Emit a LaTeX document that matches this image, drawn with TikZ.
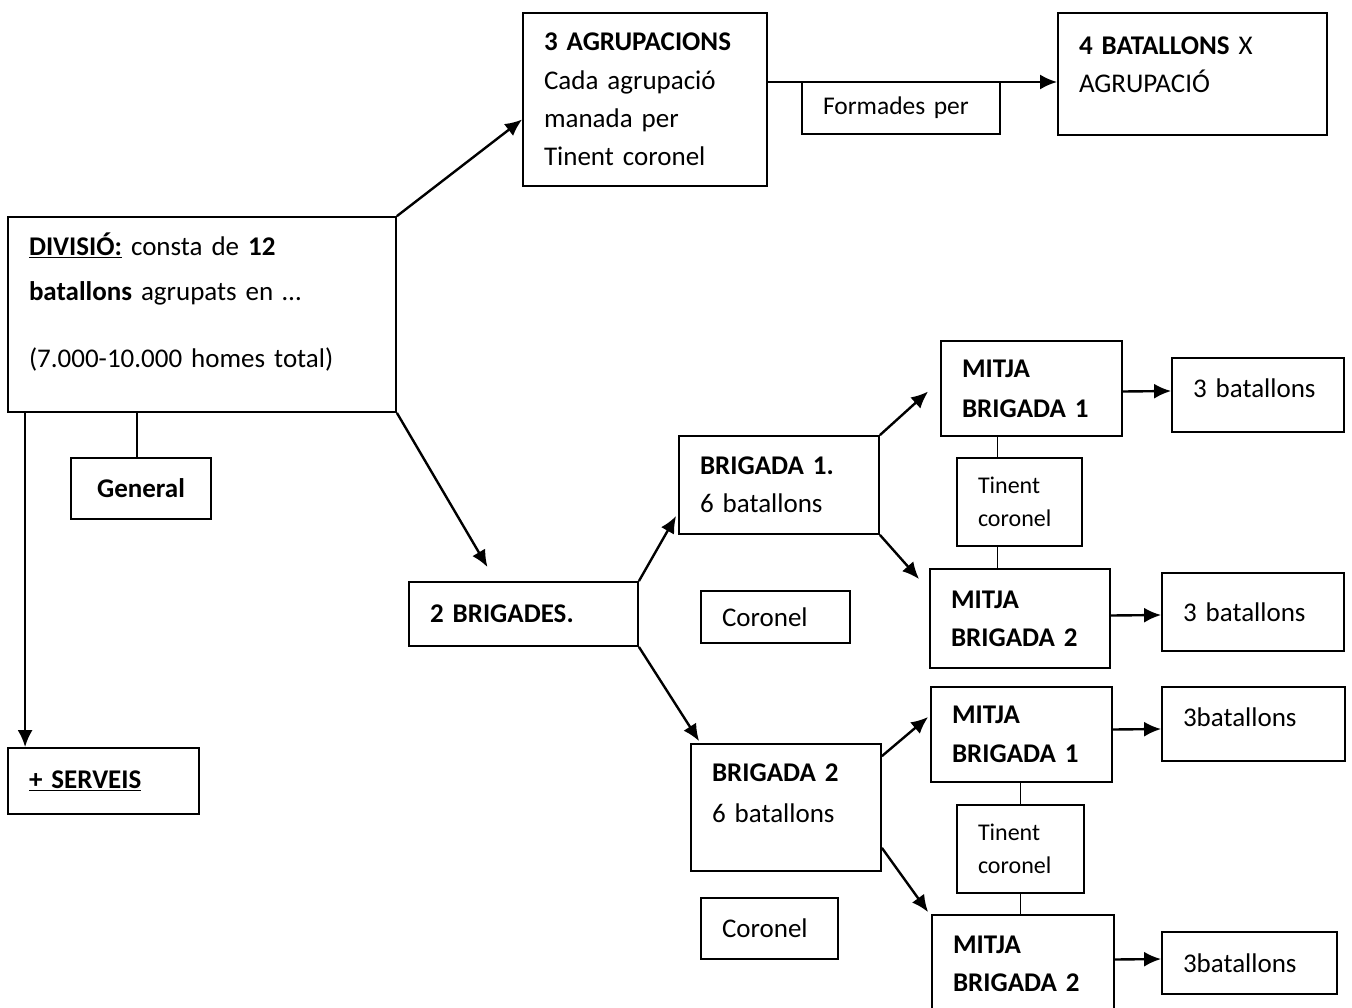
\documentclass[tikz,border=0pt]{standalone}
\usepackage{fontspec}
\setmainfont{Carlito}
\usetikzlibrary{
    calc,
    arrows.meta,
    positioning
}
\tikzset{
    box/.style={draw, line width=1.8pt, rectangle, align=left, inner xsep=21pt, inner ysep=0pt,
        font=\fontsize{27}{38}\selectfont},
    small/.style={font=\fontsize{24}{33}\selectfont},
    conn/.style={-{Latex[length=17pt,width=15pt]}, line width=2.4pt},
    tie/.style={line width=1.6pt}
}

\begin{document}
\begin{tikzpicture}[x=1pt, y=-1pt]
        \useasboundingbox (0,0) rectangle (1352,1007);

        % left part
        \node[box, text width=346pt, minimum height=195pt] (divisio) at (202,314.5)
            {\underline{\textbf{DIVISIÓ:}} consta de \textbf{12}\\[7pt]
             \textbf{batallons} agrupats en …\\[29pt]
             (7.000-10.000 homes total)\par\vspace{24pt}\hrule height 0pt};
        \node[box, align=center, text width=98pt, minimum height=61pt] (general) at (141,488.5) {\textbf{General}};
        \node[box, text width=149pt, minimum height=66pt] (serveis) at (103.5,781) {\underline{\textbf{+ SERVEIS}}};

        \draw[tie] ([shift={(-4,0)}]general.north) -- ([shift={(-4,0)}]general.north |- divisio.south);
        \draw[conn] ([shift={(18,0)}]divisio.south west) -- ([shift={(18,0)}]serveis.north west);

        % agrupacions
        \node[box, text width=202pt, minimum height=173pt] (agrup) at (645,99.5)
            {\textbf{3 AGRUPACIONS}\\[1pt] Cada agrupació\\ manada per\\ Tinent coronel};
        \node[box, font=\fontsize{25.5}{33}\selectfont, text width=156pt, minimum height=52pt] (formades) at (901,108) {Formades per};
        \node[box, text width=227pt, minimum height=122pt] (bat4) at (1192.5,74)
            {\textbf{4 BATALLONS} X\\ AGRUPACIÓ\par\vspace{18pt}\hrule height 0pt};

        \draw[conn] (divisio.north east) -- ([shift={(0,20)}]agrup.west);
        \draw[conn] ([shift={(0,-17.5)}]agrup.east) -- ([shift={(0,8)}]bat4.west);

        % brigades
        \node[box, text width=187pt, minimum height=64pt] (brigades) at (523.5,614) {\textbf{2 BRIGADES.}};
        \node[box, text width=158pt, minimum height=98pt] (brig1) at (779,485) {\textbf{BRIGADA 1.}\\ 6 batallons};
        \node[box, text width=107pt, minimum height=52pt] (coronel1) at (775.5,617) {Coronel};
        \node[box, text width=148pt, minimum height=127pt] (brig2) at (786,807.5)
            {\textbf{BRIGADA 2}\\[3pt] 6 batallons\par\vspace{28pt}\hrule height 0pt};
        \node[box, text width=95pt, minimum height=61pt] (coronel2) at (769.5,928.5) {Coronel};

        \draw[conn] (divisio.south east) -- ([shift={(-36,-14)}]brigades.north);
        \draw[conn] (brigades.north east) -- ([shift={(-2,31)}]brig1.west);
        \draw[conn] (brigades.south east) -- ([shift={(9,-2)}]brig2.north west);

        % brigada 1
        \node[box, text width=139pt, minimum height=95pt] (mitja1) at (1031.5,388.5) {\textbf{MITJA}\\[2pt] \textbf{BRIGADA 1}};
        \node[box, text width=130pt, minimum height=74pt] (bat31) at (1258,395) {3 batallons\par\vspace{14pt}\hrule height 0pt};
        \node[box, small, text width=83pt, minimum height=88pt] (tin1) at (1019.5,502) {Tinent\\ coronel};
        \node[box, text width=138pt, minimum height=99pt] (mitja2) at (1020,618.5) {\textbf{MITJA}\\ \textbf{BRIGADA 2}};
        \node[box, text width=140pt, minimum height=78pt] (bat32) at (1253,612) {3 batallons};

        \draw[conn] (brig1.north east) -- ([shift={(-12,3)}]mitja1.west);
        \draw[conn] (brig1.south east) -- ([shift={(-10,11)}]mitja2.north west);
        \draw[conn] ([shift={(0,3)}]mitja1.east) -- ([shift={(0,-4)}]bat31.west);
        \draw[conn] ([shift={(0,-3)}]mitja2.east) -- ([shift={(0,3)}]bat32.west);
        \coordinate (t1) at ([shift={(-22,0)}]tin1.north);
        \draw[tie] (t1) -- (t1 |- mitja1.south);
        \draw[tie] (t1 |- tin1.south) -- (t1 |- mitja2.north);

        % brigada 2
        \node[box, text width=139pt, minimum height=95pt] (mitja3) at (1021.5,734.5) {\textbf{MITJA}\\[1pt] \textbf{BRIGADA 1}};
        \node[box, text width=141pt, minimum height=74pt] (bat33) at (1253.5,724) {3batallons\par\vspace{14pt}\hrule height 0pt};
        \node[box, small, text width=85pt, minimum height=88pt] (tin2) at (1020.5,849) {Tinent\\ coronel};
        \node[box, text width=140pt, minimum height=97pt] (mitja4) at (1023,963.5) {\textbf{MITJA}\\ \textbf{BRIGADA 2}};
        \node[box, text width=133pt, minimum height=62pt] (bat34) at (1249.5,963) {3batallons};

        \draw[conn] ([shift={(0,13)}]brig2.north east) -- ([shift={(-2,-17.5)}]mitja3.west);
        \draw[conn] ([shift={(0,-24)}]brig2.south east) -- ([shift={(-3,-2)}]mitja4.north west);
        \draw[conn] ([shift={(0,-5)}]mitja3.east) -- ([shift={(0,5)}]bat33.west);
        \draw[conn] ([shift={(0,-4)}]mitja4.east) -- ([shift={(0,-4)}]bat34.west);
        \draw[tie] (tin2.north) -- (tin2.north |- mitja3.south);
        \draw[tie] (tin2.south) -- (tin2.south |- mitja4.north);
\end{tikzpicture}
\end{document}
